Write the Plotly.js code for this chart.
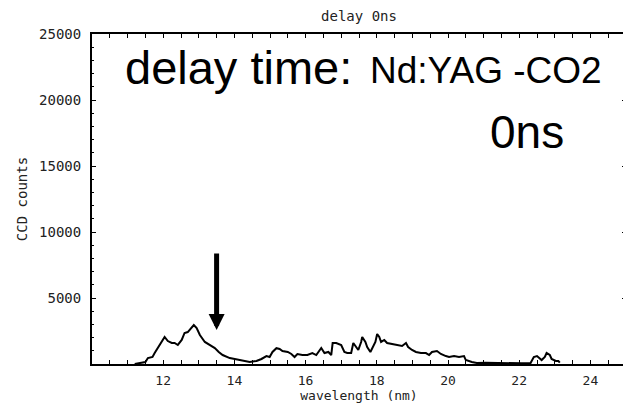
<!DOCTYPE html>
<html>
<head>
<meta charset="utf-8">
<script src="https://cdn.plot.ly/plotly-3.0.1.min.js"></script>
<style>
html,body{margin:0;padding:0;overflow:hidden;background:#fff;}
#chart{width:626px;height:404px;}
</style>
</head>
<body>
<div id="chart"></div>
<script>
// wavelength (nm)
var wavelength = [11.2, 11.5, 11.57, 11.7, 11.76, 11.85, 11.96, 12.04, 12.13, 12.24,
  12.32, 12.41, 12.52, 12.6, 12.69, 12.8, 12.86, 12.94, 13.03, 13.17,
  13.3, 13.45, 13.56, 13.67, 13.87, 14.0, 14.15, 14.3, 14.43, 14.62,
  14.76, 14.9, 14.99, 15.07, 15.18, 15.27, 15.35, 15.5, 15.6, 15.69,
  15.77, 15.91, 16.05, 16.19, 16.3, 16.44, 16.53, 16.64, 16.72, 16.76,
  16.86, 17.0, 17.09, 17.17, 17.28, 17.34, 17.42, 17.48, 17.56, 17.59,
  17.68, 17.73, 17.82, 17.87, 17.96, 18.01, 18.07, 18.12, 18.21, 18.29,
  18.43, 18.57, 18.71, 18.82, 18.88, 18.99, 19.1, 19.24, 19.38, 19.47,
  19.55, 19.69, 19.8, 19.94, 20.03, 20.17, 20.31, 20.45, 20.5, 20.67,
  20.81, 21.06, 21.34, 21.7, 22.07, 22.32, 22.41, 22.5, 22.58, 22.63,
  22.72, 22.77, 22.86, 22.91, 23.03, 23.1, 23.14];
// CCD counts
var counts = [0, 150, 450, 530, 830, 1200, 1670, 2050, 1740, 1590,
  1590, 1440, 1820, 2350, 2420, 2730, 2950, 2730, 2200, 1670,
  1440, 1210, 910, 680, 450, 380, 300, 200, 150, 230,
  380, 600, 530, 910, 1200, 1140, 980, 910, 760, 530,
  760, 680, 680, 830, 680, 1210, 830, 910, 680, 1590,
  1590, 1440, 910, 830, 830, 1590, 1290, 1060, 1670, 2050,
  1670, 1290, 910, 1210, 1670, 2270, 2050, 1670, 1820, 1590,
  1520, 1440, 1360, 1590, 1290, 1060, 910, 830, 830, 680,
  910, 980, 760, 600, 530, 600, 530, 600, 300, 150,
  80, 100, 80, 50, 50, 80, 530, 600, 450, 300,
  530, 830, 680, 380, 230, 230, 100];

var xTickVals = [12, 14, 16, 18, 20, 22, 24];
var yTickVals = [5000, 10000, 15000, 20000, 25000];
var arrowX = 13.5, arrowTipY = 2580, arrowTailY = 8480;

var mono = 'DejaVu Sans Mono, Liberation Mono, monospace';
var sans = 'Liberation Sans, Arial, sans-serif';

var trace = {
  x: wavelength, y: counts, type: 'scatter', mode: 'lines',
  line: {color: '#000', width: 2}, hoverinfo: 'skip'
};

var axisCommon = {
  showgrid: false, zeroline: false, showline: true, linecolor: '#000', linewidth: 2,
  mirror: 'ticks', ticks: 'inside', ticklen: 4, tickwidth: 1, tickcolor: '#000',
  tickfont: {family: mono, size: 14, color: '#222'}
};

var layout = {
  width: 626, height: 404,
  margin: {l: 92, r: 0, t: 34, b: 40},
  paper_bgcolor: '#fff', plot_bgcolor: '#fff',
  showlegend: false,
  title: {text: 'delay 0ns', font: {family: mono, size: 14, color: '#222'},
          x: 0.5, xref: 'paper', xanchor: 'center', y: 0.96, yanchor: 'middle'},
  xaxis: Object.assign({}, axisCommon, {
    range: [10, 25], tickvals: xTickVals, ticktext: xTickVals.map(String),
    ticklabelstandoff: 3,
    tickfont: {family: mono, size: 13, color: '#222'},
    minor: {dtick: 0.5, ticklen: 4, tickwidth: 1, tickcolor: '#000', ticks: 'inside', showgrid: false},
    title: {text: 'wavelength (nm)', font: {family: mono, size: 13, color: '#222'}, standoff: 4}
  }),
  yaxis: Object.assign({}, axisCommon, {
    range: [0, 25000], tickvals: yTickVals, ticktext: yTickVals.map(String),
    ticklabelstandoff: 6,
    minor: {dtick: 1000, ticklen: 2, tickwidth: 1, tickcolor: '#000', ticks: 'inside', showgrid: false},
    title: {text: 'CCD counts', font: {family: mono, size: 14, color: '#222'}, standoff: 8}
  }),
  annotations: [
    {text: 'delay time:', xref: 'paper', yref: 'paper', x: (123-92)/534, y: (364-67)/330,
     xanchor: 'left', yanchor: 'middle', showarrow: false,
     font: {family: sans, size: 47, color: '#000'}},
    {text: 'Nd:YAG -CO2', xref: 'paper', yref: 'paper', x: (604-92)/534, y: (364-70)/330,
     xanchor: 'right', yanchor: 'middle', showarrow: false,
     font: {family: sans, size: 37, color: '#000'}},
    {text: '0ns', xref: 'paper', yref: 'paper', x: (566-92)/534, y: (364-132)/330,
     xanchor: 'right', yanchor: 'middle', showarrow: false,
     font: {family: sans, size: 46, color: '#000'}},
    {text: '', x: arrowX, y: arrowTipY, ax: arrowX, ay: arrowTailY,
     xref: 'x', yref: 'y', axref: 'x', ayref: 'y',
     showarrow: true, arrowhead: 2, arrowsize: 0.64, arrowwidth: 5, arrowcolor: '#000', standoff: 0}
  ]
};

Plotly.newPlot('chart', [trace], layout, {displayModeBar: false, staticPlot: true});
</script>
</body>
</html>
